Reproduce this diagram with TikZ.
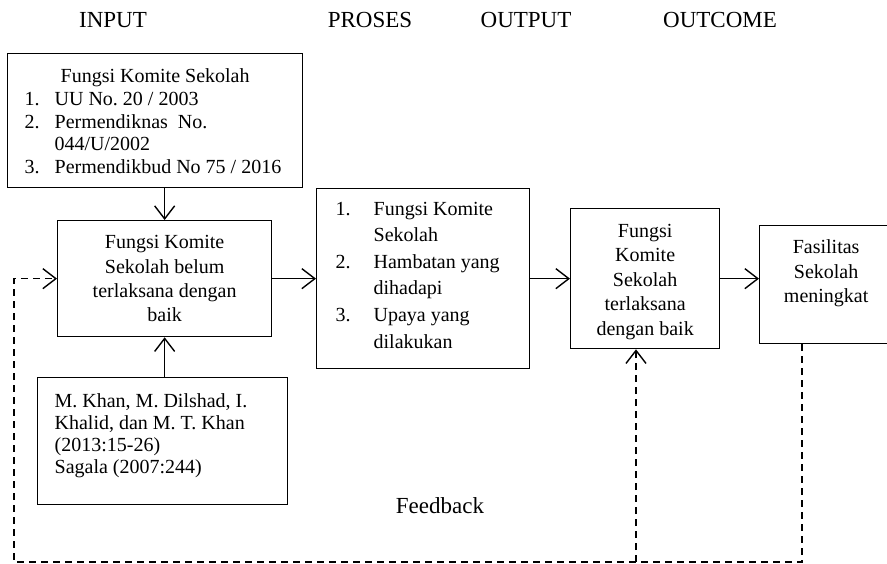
\documentclass[tikz,border=0pt]{standalone}
\usepackage{fontspec}
\setmainfont{Liberation Serif}
\usetikzlibrary{arrows.meta}
\newcommand{\boxtext}[4]{\parbox[c][#1][t]{#2}{\vspace*{#3}#4}}
\begin{document}
\begin{tikzpicture}[x=1pt,y=-1pt,
  box/.style={draw, line width=1.3pt, inner sep=0pt, anchor=north west},
  arr/.style={line width=1.4pt, -{Straight Barb[length=13pt,width=20pt,line width=1.4pt]}},
  fb/.style={line width=1.4pt, dash pattern=on 7pt off 5pt},
  hdr/.style={font=\fontsize{23}{26}\selectfont, anchor=base, inner sep=0pt}]
\useasboundingbox (0,0) rectangle (887,564);
\clip (0,0) rectangle (887,564);
% headers
\node[hdr] (hin) at (113,28) {INPUT};
\node[hdr] (hpr) at (370,28) {PROSES};
\node[hdr] (hout) at (526,28) {OUTPUT};
\node[hdr] (hoc) at (720,28) {OUTCOME};
% boxes
\node[box, font=\fontsize{20}{22.8}\selectfont\frenchspacing] (b1) at (7,53)
  {\boxtext{134pt}{295pt}{15pt}{\centering Fungsi Komite Sekolah\par
   \raggedright\leftskip=17pt
   \mbox{\makebox[30pt][l]{1.}UU No. 20 / 2003}\\
   \mbox{\makebox[30pt][l]{2.}Permendiknas\ \ No.}\\
   \mbox{\hspace*{30pt}044/U/2002}\\
   \mbox{\makebox[30pt][l]{3.}Permendikbud No 75 / 2016}\par}};
\node[box, font=\fontsize{20}{24.3}\selectfont] (b2) at (57,220)
  {\boxtext{116pt}{214pt}{15pt}{\centering Fungsi Komite\\Sekolah belum\\terlaksana dengan\\baik\par}};
\node[box, font=\fontsize{20}{22}\selectfont\frenchspacing] (b3) at (37,377)
  {\boxtext{127pt}{250pt}{16pt}{\raggedright\leftskip=17pt
   M. Khan, M. Dilshad, I.\\Khalid, dan M. T. Khan\\(2013:15-26)\\Sagala (2007:244)\par}};
\node[box, font=\fontsize{20}{26.6}\selectfont] (b4) at (316,188)
  {\boxtext{180pt}{213pt}{13.3pt}{\raggedright\leftskip=19pt
   \makebox[38pt][l]{1.}Fungsi Komite\\
   \hspace*{38pt}Sekolah\\
   \makebox[38pt][l]{2.}Hambatan yang\\
   \hspace*{38pt}dihadapi\\
   \makebox[38pt][l]{3.}Upaya yang\\
   \hspace*{38pt}dilakukan\par}};
\node[box, font=\fontsize{20}{24.5}\selectfont] (b5) at (570,208)
  {\boxtext{140pt}{149pt}{15.3pt}{\centering Fungsi\\Komite\\Sekolah\\terlaksana\\dengan baik\par}};
\node[box, font=\fontsize{20}{24.5}\selectfont] (b6) at (759,225)
  {\boxtext{118pt}{133pt}{14.3pt}{\centering Fasilitas\\Sekolah\\meningkat\par}};
% feedback label
\node[hdr] (fbk) at (440,513) {Feedback};
% solid arrows
\draw[arr] (b2.north |- b1.south) -- (b2.north);
\draw[arr] (b2.south |- b3.north) -- (b2.south);
\draw[arr] (b2.east) -- (b4.west |- b2.east);
\draw[arr] (b4.east) -- (b5.west |- b4.east);
\draw[arr] (b5.east) -- (b6.west |- b5.east);
% feedback loop
\coordinate (fbL) at (14,562);
\coordinate (fbM) at (636,562);
\coordinate (fbR) at (802,562);
\draw[fb, -{Straight Barb[length=13pt,width=20pt,line width=1.4pt]}]
  (b6.south -| fbR) -- (fbR) -- (fbL) -- (fbL |- b2.west) -- (b2.west);
\draw[fb, -{Straight Barb[length=13pt,width=20pt,line width=1.4pt]}]
  (fbM) -- (fbM |- b5.south);
\end{tikzpicture}
\end{document}
